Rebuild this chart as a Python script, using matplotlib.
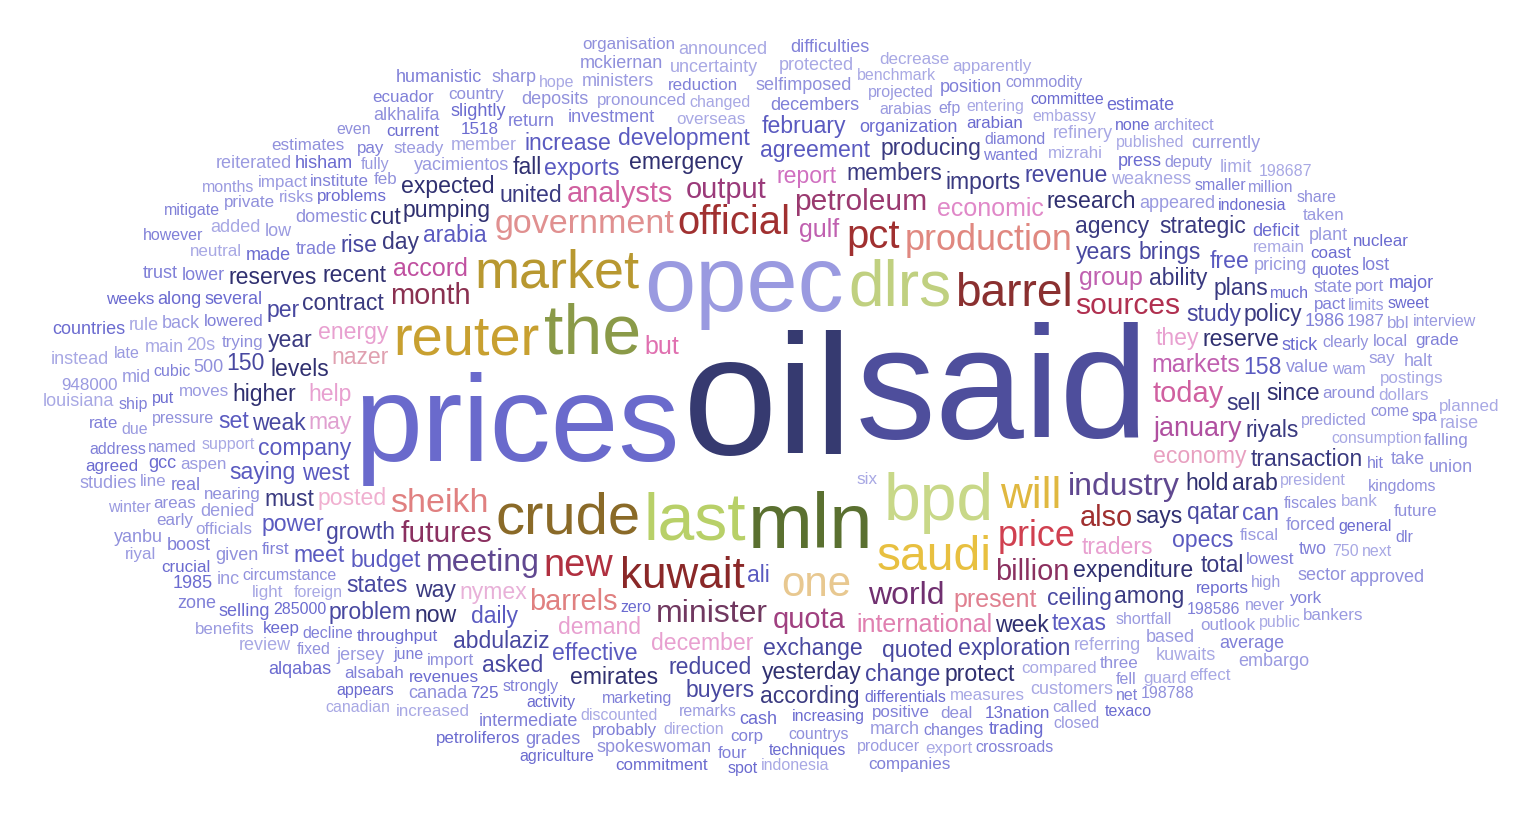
import numpy as np
import matplotlib
matplotlib.use("Agg")
import matplotlib.pyplot as plt

W, H = 1535, 815

# big and medium words: (word, em size px, colour)
big_words = ["oil", "said", "prices", "opec", "mln", "the", "last", "bpd", "dlrs", "crude",
             "reuter", "market", "saudi", "barrel", "will", "kuwait", "one", "pct", "official",
             "new", "price", "production", "government", "sheikh", "industry", "world",
             "minister", "meeting", "petroleum", "futures", "sources", "month", "quota", "also",
             "barrels", "billion", "output", "analysts", "today", "january", "present",
             "international", "nazer", "gulf", "accord", "group", "markets", "economic",
             "economy", "december", "traders", "energy", "they", "may", "nymex", "demand",
             "help", "report", "posted", "but"]
big_sizes = [170, 160, 122, 92, 78, 70, 66, 66, 64, 58,
             56, 54, 48, 46, 44, 44, 42, 40, 40,
             38, 36, 36, 34, 34, 32, 32,
             32, 32, 30, 30, 30, 29, 29, 29,
             29, 29, 29, 29, 29, 27, 25,
             25, 23, 25, 25, 25, 25, 25,
             23, 23, 23, 23, 23, 23, 23, 23,
             23, 23, 23, 25]
big_colors = ["#363a70", "#4e4e9c", "#6a6acc", "#9a9ae0", "#5a7030", "#8a9a48", "#b8d068",
              "#c8d888", "#c0d080", "#8a6a28", "#c8a030", "#b89830", "#e8c040", "#8a3030",
              "#e0b840", "#8a2828", "#e8c890", "#a03030", "#a03030", "#b03040", "#d04050",
              "#e08880", "#e09090", "#e08080", "#604890", "#703070", "#703860", "#604890",
              "#9a3a70", "#8a3060", "#b03050", "#8a3050", "#a04080", "#a03030", "#e08080",
              "#8a3060", "#9a3a7a", "#d060a0", "#d060a0", "#b050a0", "#e08090", "#e080b0",
              "#e0a0b0", "#c060b0", "#c050a0", "#c060b0", "#c060b0", "#e088c8", "#e8a0c0",
              "#e8a0d0", "#e8a0d0", "#e8a0d0", "#e8a0d0", "#e0a0d0", "#e8b0d8", "#e8a0d0",
              "#e8a0d0", "#d070c0", "#f0b0d0", "#e070b0"]

mid_words = ["says", "exchange", "arabia", "members", "emergency", "years", "company",
             "contract", "expenditure", "growth", "west", "united", "hold", "ceiling", "budget",
             "imports", "levels", "quoted", "daily", "ability", "recent", "study", "agreement",
             "sell", "week", "reduced", "effective", "agency", "pumping", "qatar", "ali", "way",
             "reserve", "weak", "exports", "day", "yesterday", "brings", "opecs", "year",
             "higher", "exploration", "development", "producing", "research", "abdulaziz",
             "158", "riyals", "arab", "states", "texas", "must", "now", "rise", "saying",
             "among", "expected", "change", "power", "plans", "emirates", "revenue",
             "february", "transaction", "since", "per", "meet", "policy", "fall", "150",
             "increase", "according", "reserves", "buyers", "can", "strategic", "cut",
             "problem", "set", "total", "protect", "asked", "free"]

small_words = ["yacimientos", "wanted", "support", "organization", "trying", "shortfall", "trade",
               "overseas", "differentials", "value", "fiscal", "marketing", "referring",
               "throughput", "circumstance", "appeared", "lowered", "president", "stick",
               "nearing", "predicted", "investment", "compared", "zero", "domestic", "moves",
               "diamond", "member", "reports", "fiscales", "denied", "first", "foreign",
               "several", "import", "remarks", "decembers", "mizrahi", "much", "500", "aspen",
               "strongly", "weakness", "problems", "pressure", "pricing", "lowest", "changed",
               "made", "around", "arabias", "1986", "measures", "increasing", "forced",
               "officials", "198586", "20s", "arabian", "clearly", "based", "positive",
               "discounted", "cash", "feb", "wam", "return", "remain", "activity", "given",
               "pronounced", "june", "customers", "revenues", "named", "low", "pact",
               "consumption", "press", "three", "high", "real", "six", "285000", "selfimposed",
               "steady", "cubic", "refinery", "1518", "efp", "back", "institute", "direction",
               "deficit", "deal", "projected", "two", "light", "put", "state", "outlook",
               "decline", "main", "725", "countrys", "jersey", "reduction", "entering", "gcc",
               "areas", "fully", "lower", "bank", "indonesia", "deposits", "risks", "smaller",
               "kuwaits", "13nation", "come", "march", "probably", "embassy", "along", "1987",
               "never", "intermediate", "neutral", "quotes", "canada", "say", "hit", "added",
               "current", "deputy", "ministers", "corp", "published", "slightly", "early",
               "limits", "boost", "dollars", "general", "sector", "line", "changes",
               "uncertainty", "coast", "fell", "inc", "alsabah", "benchmark", "hisham", "local",
               "due", "position", "postings", "techniques", "spokeswoman", "called", "ship",
               "protected", "keep", "kingdoms", "mid", "pay", "750", "selling", "private",
               "producer", "average", "guard", "committee", "take", "impact", "address",
               "rule", "crucial", "fixed", "plant", "york", "public", "trading", "port",
               "late", "grades", "increased", "none", "alkhalifa", "bbl", "net", "limit",
               "agreed", "million", "halt", "four", "hope", "1985", "country", "winter",
               "trust", "export", "appears", "mckiernan", "taken", "spa", "review", "weeks",
               "198788", "studies", "rate", "indonesia", "alqabas", "estimates", "closed",
               "lost", "decrease", "sweet", "yanbu", "948000", "however", "announced",
               "commitment", "commodity", "currently", "companies", "next", "estimate",
               "future", "architect", "difficulties", "effect", "texaco", "sharp", "benefits",
               "crossroads", "louisiana", "petroliferos", "even", "reiterated", "grade",
               "198687", "countries", "falling", "months", "zone", "apparently", "agriculture",
               "approved", "bankers", "mitigate", "instead", "nuclear", "share", "embargo",
               "ecuador", "canadian", "major", "organisation", "interview", "humanistic",
               "planned", "spot", "union", "riyal", "dlr", "raise"]

mid_palette = ["#303070", "#4848a0", "#5a5ac0", "#3a3a80"]
small_palette = ["#9a9ae0", "#8080d8", "#a8a8e4", "#6b6bd0", "#9090dc"]

words = big_words + mid_words + small_words
sizes = big_sizes + [23] * len(mid_words) + [18 - (i % 3) for i in range(len(small_words))]
colors = (big_colors + [mid_palette[i % 4] for i in range(len(mid_words))]
          + [small_palette[i % 5] for i in range(len(small_words))])

fig = plt.figure(figsize=(W / 100, H / 100), dpi=100)
ax = fig.add_axes([0, 0, 1, 1])
ax.set_xlim(0, W)
ax.set_ylim(H, 0)
ax.set_axis_off()
renderer = fig.canvas.get_renderer()

occ = np.zeros((H, W), dtype=np.int32)
cx, cy = W / 2, H / 2 + 2
rx, ry = 768, 405
theta = np.arange(0, 1000, 0.04)
rr = 0.42 * theta
px = cx + rr * np.cos(theta) * 1.9
py = cy + rr * np.sin(theta)

for w, s, c in zip(words, sizes, colors):
    t = ax.text(0, 0, w, fontsize=s * 0.72, color=c, family="Liberation Sans",
                ha="center", va="center")
    bb = t.get_window_extent(renderer)
    bw = int(np.ceil(bb.width)) + 2
    bh = int(np.ceil(bb.height)) + 1
    ii = np.zeros((H + 1, W + 1), dtype=np.int64)
    ii[1:, 1:] = occ.cumsum(0).cumsum(1)
    x0 = np.round(px - bw / 2).astype(int)
    y0 = np.round(py - bh / 2).astype(int)
    ok = (x0 >= 0) & (y0 >= 0) & (x0 + bw < W) & (y0 + bh < H)
    for dx, dy in [(0, 0), (bw, 0), (0, bh), (bw, bh)]:
        ok &= ((x0 + dx - cx) / rx) ** 2 + ((y0 + dy - cy) / ry) ** 2 <= 1.0
    idx = np.nonzero(ok)[0]
    if len(idx) == 0:
        t.remove()
        continue
    a, b = x0[idx], y0[idx]
    tot = ii[b + bh, a + bw] - ii[b, a + bw] - ii[b + bh, a] + ii[b, a]
    free = np.nonzero(tot == 0)[0]
    if len(free) == 0:
        t.remove()
        continue
    k = idx[free[0]]
    occ[y0[k]:y0[k] + bh, x0[k]:x0[k] + bw] = 1
    t.set_position((x0[k] + bw / 2, y0[k] + bh / 2))

fig.savefig("out.png", dpi=100, facecolor="white")
